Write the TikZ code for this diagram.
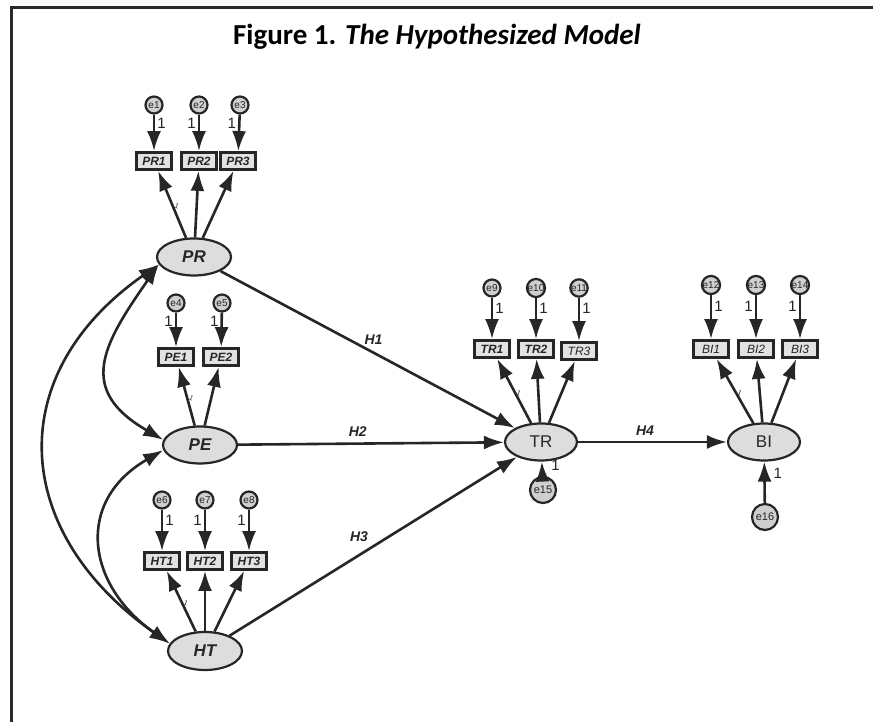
\documentclass[tikz,border=0pt]{standalone}
\usepackage{fontspec}
\setmainfont{Liberation Sans}
\newfontfamily\titlefont{Carlito}
\usetikzlibrary{arrows.meta,shapes.geometric}
\definecolor{linec}{HTML}{262626}
\definecolor{latfill}{HTML}{DDDDDD}
\definecolor{obsfill}{HTML}{E2E2E2}
\definecolor{errfill}{HTML}{CFCFCF}
\definecolor{framec}{HTML}{2A2A2A}
\begin{document}
\begin{tikzpicture}[x=1pt,y=1pt,
  lat/.style={ellipse, draw=linec, fill=latfill, line width=2.2pt, minimum width=74pt, minimum height=37pt, inner sep=0pt, font=\fontsize{17}{17}\selectfont\bfseries\itshape, text=linec},
  obs/.style={rectangle, draw=linec, fill=obsfill, line width=2.8pt, minimum width=35pt, minimum height=17pt, inner sep=0pt, font=\fontsize{12}{12}\selectfont\bfseries\itshape, text=linec},
  err/.style={circle, draw=linec, fill=errfill, line width=2.2pt, minimum size=17pt, inner sep=0pt, font=\fontsize{10}{10}\selectfont, text=linec},
  bigerr/.style={err, minimum size=26pt, font=\fontsize{11}{11}\selectfont},
  arr/.style={draw=linec, line width=2.6pt, -{Latex[length=20pt,width=14pt]}},
  cov/.style={draw=linec, line width=2.6pt, {Latex[length=20pt,width=14pt]}-{Latex[length=20pt,width=14pt]}},
  one/.style={font=\fontsize{15}{15}\selectfont, inner sep=2pt, text=linec},
  hyp/.style={font=\fontsize{14}{14}\selectfont\bfseries\itshape, text=linec},
  tinyone/.style={font=\fontsize{7}{7}\selectfont, inner sep=2pt, rotate=-25, text=linec}
]
\useasboundingbox (0,0) rectangle (873,722);
\fill[white] (0,0) rectangle (873,722);
\draw[line width=3pt, framec] (11,0) -- (11,714) -- (873,714);

\node[font=\titlefont\fontsize{29}{29}\selectfont\bfseries] (title) at (437,685) {Figure 1. \textit{The Hypothesized Model}};

% latent variables
\node[lat] (PR) at (194,465) {PR};
\node[lat] (PE) at (200,277) {PE};
\node[lat, minimum height=38pt] (HT) at (205,71) {HT};
\node[lat, minimum width=72pt, font=\fontsize{17}{17}\selectfont] (TR) at (541,280) {TR};
\node[lat, minimum width=72pt, font=\fontsize{17}{17}\selectfont] (BI) at (764,280) {BI};

% indicators
\node[obs] (PR1) at (154,561) {PR1};
\node[obs] (PR2) at (199,561) {PR2};
\node[obs] (PR3) at (238,561) {PR3};
\node[obs] (PE1) at (176,365) {PE1};
\node[obs] (PE2) at (221,365) {PE2};
\node[obs] (HT1) at (162,161) {HT1};
\node[obs] (HT2) at (205,161) {HT2};
\node[obs] (HT3) at (249,161) {HT3};
\node[obs] (TR1) at (492,373) {TR1};
\node[obs] (TR2) at (536,373) {TR2};
\node[obs, font=\fontsize{12}{12}\selectfont\itshape] (TR3) at (579,371) {TR3};
\node[obs, font=\fontsize{12}{12}\selectfont\itshape] (BI1) at (711,373) {BI1};
\node[obs, font=\fontsize{12}{12}\selectfont\itshape] (BI2) at (756,373) {BI2};
\node[obs, font=\fontsize{12}{12}\selectfont\itshape] (BI3) at (800,373) {BI3};

% errors
\node[err] (e1) at (154,617) {e1};
\node[err] (e2) at (199,617) {e2};
\node[err] (e3) at (240,617) {e3};
\node[err] (e4) at (176,419) {e4};
\node[err] (e5) at (222,419) {e5};
\node[err] (e6) at (162,222) {e6};
\node[err] (e7) at (205,222) {e7};
\node[err] (e8) at (249,222) {e8};
\node[err] (e9) at (492,434) {e9};
\node[err] (e10) at (536,434) {e10};
\node[err] (e11) at (579,434) {e11};
\node[err] (e12) at (711,437) {e12};
\node[err] (e13) at (756,437) {e13};
\node[err] (e14) at (800,437) {e14};
\node[bigerr] (e15) at (543,232) {e15};
\node[bigerr] (e16) at (765,205) {e16};

% error arrows
\draw[arr] (e1) -- node[one, pos=0.25, right] (o1) {1} (PR1);
\draw[arr] (e2) -- node[one, pos=0.25, left] (o2) {1} (PR2);
\draw[arr] (e3) -- node[one, pos=0.25, left] (o3) {1} (PR3);
\draw[arr] (e4) -- node[one, pos=0.25, left] (o4) {1} (PE1);
\draw[arr] (e5) -- node[one, pos=0.25, left] (o5) {1} (PE2);
\draw[arr] (e6) -- node[one, pos=0.25, right] (o6) {1} (HT1);
\draw[arr] (e7) -- node[one, pos=0.25, left] (o7) {1} (HT2);
\draw[arr] (e8) -- node[one, pos=0.25, left] (o8) {1} (HT3);
\draw[arr] (e9) -- node[one, pos=0.25, right] (o9) {1} (TR1);
\draw[arr] (e10) -- node[one, pos=0.25, right] (o10) {1} (TR2);
\draw[arr] (e11) -- node[one, pos=0.25, right] (o11) {1} (TR3);
\draw[arr] (e12) -- node[one, pos=0.25, right] (o12) {1} (BI1);
\draw[arr] (e13) -- node[one, pos=0.25, left] (o13) {1} (BI2);
\draw[arr] (e14) -- node[one, pos=0.25, left] (o14) {1} (BI3);
\draw[arr] (e15) -- node[one, pos=0.72, right=6pt] (o15) {1} (TR);
\draw[arr] (e16) -- node[one, pos=0.72, right=6pt] (o16) {1} (BI);

% loadings
\draw[arr] (PR) -- node[tinyone, pos=0.5, right] (l1) {1} (PR1);
\draw[arr] (PR) -- (PR2);
\draw[arr] (PR) -- (PR3);
\draw[arr] (PE) -- node[tinyone, pos=0.5, right] (l2) {1} (PE1);
\draw[arr] (PE) -- (PE2);
\draw[arr] (HT) -- node[tinyone, pos=0.5, right] (l3) {1} (HT1);
\draw[arr] (HT) -- (HT2);
\draw[arr] (HT) -- (HT3);
\draw[arr] (TR) -- node[tinyone, pos=0.5, right] (l4) {1} (TR1);
\draw[arr] (TR) -- (TR2);
\draw[arr] (TR) -- (TR3);
\draw[arr] (BI) -- node[tinyone, pos=0.5, right] (l5) {1} (BI1);
\draw[arr] (BI) -- (BI2);
\draw[arr] (BI) -- (BI3);

% structural paths
\draw[arr] (PR) -- node[hyp, pos=0.52, above=4pt] (H1) {H1} (TR);
\draw[arr] (PE) -- node[hyp, pos=0.45, above=2pt] (H2) {H2} (TR);
\draw[arr] (HT) -- node[hyp, pos=0.45, above=9pt] (H3) {H3} (TR);
\draw[arr] (TR) -- node[hyp, pos=0.45, above=2pt] (H4) {H4} (BI);

% covariances
\draw[cov] (PR.192) to[out=215, in=145, looseness=1.3] (HT.168);
\draw[cov] (PR.192) to[out=235, in=150, looseness=1.45] (PE.172);
\draw[cov] (PE.188) to[out=210, in=145, looseness=1.35] (HT.168);
\end{tikzpicture}
\end{document}
